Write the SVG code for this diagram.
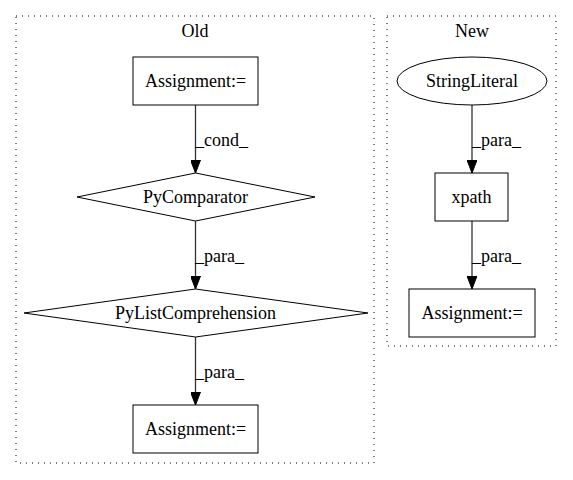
<svg xmlns="http://www.w3.org/2000/svg" width="573" height="480" viewBox="0 0 573 480">
<defs>
<style>
.cl{fill:none;stroke:#000;stroke-dasharray:1,5;stroke-width:1}
.nd{fill:#fff;stroke:#000;stroke-width:1}
.t{font-family:"Liberation Serif","Times New Roman",serif;font-size:18px;fill:#000;text-anchor:middle}
.e{stroke:#333;stroke-width:1.3;fill:none}
.lb{font-family:"Liberation Serif","Times New Roman",serif;font-size:18px;fill:#000;text-anchor:start}
</style>
<marker id="ah" viewBox="0 0 13 10" refX="13" refY="5" markerWidth="13" markerHeight="10" markerUnits="userSpaceOnUse" orient="auto">
<path d="M0,0 L13,5 L0,10 z" fill="#000" stroke="#000"/>
</marker>
</defs>
<rect width="573" height="480" fill="#fff"/>
<g id="cluster-old">
<rect class="cl" x="16" y="16" width="358" height="447"/>
<text class="t" x="195" y="37">Old</text>
</g>
<g id="cluster-new">
<rect class="cl" x="387" y="16" width="169" height="330"/>
<text class="t" x="472" y="37">New</text>
</g>
<g id="connectors">
<path class="e" d="M195.5,105 L195.5,173" marker-end="url(#ah)"/>
<text class="lb" x="195" y="146">_cond_</text>
<path class="e" d="M195.5,221 L195.5,289" marker-end="url(#ah)"/>
<text class="lb" x="195" y="262">_para_</text>
<path class="e" d="M195.5,337 L195.5,405" marker-end="url(#ah)"/>
<text class="lb" x="195" y="378">_para_</text>
<path class="e" d="M472,105 L472,173" marker-end="url(#ah)"/>
<text class="lb" x="472" y="146">_para_</text>
<path class="e" d="M472,221 L472,289" marker-end="url(#ah)"/>
<text class="lb" x="472" y="262">_para_</text>
</g>
<g id="n-assign-old-1">
<rect class="nd" x="133" y="57" width="125" height="48"/>
<text class="t" x="195.5" y="87">Assignment:=</text>
</g>
<g id="n-pycomparator">
<polygon class="nd" points="195.5,173 315,197 195.5,221 77,197"/>
<text class="t" x="195.5" y="203">PyComparator</text>
</g>
<g id="n-pylistcomp">
<polygon class="nd" points="195.5,289 368,313 195.5,337 24,313"/>
<text class="t" x="195.5" y="319">PyListComprehension</text>
</g>
<g id="n-assign-old-2">
<rect class="nd" x="133" y="405" width="125" height="48"/>
<text class="t" x="195.5" y="435">Assignment:=</text>
</g>
<g id="n-stringliteral">
<ellipse class="nd" cx="472" cy="81" rx="75" ry="24"/>
<text class="t" x="472" y="87">StringLiteral</text>
</g>
<g id="n-xpath">
<rect class="nd" x="435" y="173" width="73" height="48"/>
<text class="t" x="471.5" y="203">xpath</text>
</g>
<g id="n-assign-new">
<rect class="nd" x="409" y="289" width="126" height="48"/>
<text class="t" x="472" y="319">Assignment:=</text>
</g>
</svg>
